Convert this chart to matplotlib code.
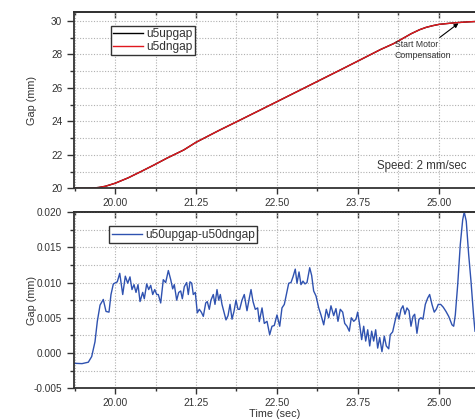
import numpy as np
import matplotlib
matplotlib.use("Agg")
import matplotlib.pyplot as plt
from matplotlib.ticker import MultipleLocator, FormatStrFormatter

plt.rcParams["font.family"] = ["Liberation Sans", "DejaVu Sans"]
plt.rcParams["axes.unicode_minus"] = False

# top panel: gap during the move (mm)
t_gap = [19.367, 19.55, 19.65, 19.75, 19.85, 19.95, 20.0, 20.2, 20.4, 20.6, 20.8,
         21.06, 21.25, 21.6, 21.93, 22.5, 23.0, 23.5, 23.76, 24.1, 24.3, 24.42,
         24.57, 24.7, 24.8, 24.9, 25.0, 25.15, 25.3, 25.45, 25.556]
u5upgap = [20.0, 20.0, 20.01, 20.05, 20.12, 20.24, 20.3, 20.62, 21.0, 21.39, 21.8,
           22.29, 22.75, 23.45, 24.08, 25.18, 26.15, 27.12, 27.63, 28.3, 28.65, 28.91,
           29.24, 29.48, 29.62, 29.72, 29.8, 29.86, 29.91, 29.95, 29.97]
u5dngap = u5upgap  # the two traces overlap at this scale

# bottom panel: up - down gap difference (mm)
t_diff = [19.367, 19.491, 19.537, 19.588, 19.640, 19.691, 19.727, 19.769, 19.819, 19.861,
          19.907, 19.938, 19.974, 20.015, 20.035, 20.073, 20.119, 20.159, 20.196, 20.231,
          20.262, 20.293, 20.324, 20.355, 20.386, 20.427, 20.452, 20.489, 20.520, 20.551,
          20.582, 20.613, 20.644, 20.668, 20.705, 20.745, 20.782, 20.823, 20.860, 20.890,
          20.915, 20.952, 20.983, 21.014, 21.039, 21.069, 21.106, 21.131, 21.157, 21.184,
          21.208, 21.239, 21.270, 21.301, 21.332, 21.363, 21.400, 21.424, 21.455, 21.481,
          21.517, 21.543, 21.574, 21.600, 21.625, 21.651, 21.682, 21.713, 21.744, 21.775,
          21.806, 21.836, 21.867, 21.898, 21.924, 21.960, 21.995, 22.037, 22.073, 22.099,
          22.130, 22.165, 22.202, 22.227, 22.269, 22.304, 22.346, 22.387, 22.423, 22.458,
          22.500, 22.542, 22.577, 22.613, 22.644, 22.681, 22.716, 22.747, 22.782, 22.809,
          22.840, 22.870, 22.901, 22.932, 22.963, 23.005, 23.035, 23.066, 23.102, 23.144,
          23.179, 23.221, 23.261, 23.298, 23.333, 23.375, 23.410, 23.441, 23.477, 23.514,
          23.545, 23.580, 23.616, 23.647, 23.684, 23.719, 23.745, 23.776, 23.807, 23.838,
          23.869, 23.900, 23.931, 23.961, 23.992, 24.023, 24.054, 24.085, 24.120, 24.156,
          24.187, 24.224, 24.248, 24.285, 24.321, 24.352, 24.383, 24.414, 24.444, 24.475,
          24.506, 24.537, 24.568, 24.599, 24.625, 24.660, 24.691, 24.722, 24.753, 24.789,
          24.826, 24.856, 24.892, 24.927, 24.958, 24.989, 25.026, 25.066, 25.108, 25.150,
          25.201, 25.227, 25.252, 25.289, 25.329, 25.366, 25.390, 25.421, 25.458, 25.494,
          25.535, 25.556]
u50_diff = [-0.00145, -0.0015, -0.0014, -0.0013, -0.0005, 0.0016, 0.0045, 0.0068, 0.0076, 0.0059,
            0.0058, 0.0083, 0.0098, 0.0100, 0.0101, 0.0113, 0.0083, 0.0109, 0.0099, 0.0108,
            0.0090, 0.0097, 0.0086, 0.0097, 0.0073, 0.0086, 0.0077, 0.0098, 0.0090, 0.0096,
            0.0083, 0.0090, 0.0083, 0.0083, 0.0071, 0.0104, 0.0100, 0.0117, 0.0104, 0.0091,
            0.0097, 0.0075, 0.0086, 0.0088, 0.0077, 0.0094, 0.0100, 0.0083, 0.0101, 0.0099,
            0.0083, 0.0086, 0.0057, 0.0062, 0.0058, 0.0052, 0.0071, 0.0073, 0.0062, 0.0075,
            0.0083, 0.0069, 0.0090, 0.0075, 0.0083, 0.0069, 0.0058, 0.0047, 0.0053, 0.0069,
            0.0048, 0.0059, 0.0075, 0.0062, 0.0062, 0.0075, 0.0083, 0.0060, 0.0078, 0.0090,
            0.0073, 0.0062, 0.0064, 0.00446, 0.0064, 0.0042, 0.0045, 0.0026, 0.0038, 0.0039,
            0.0054, 0.0038, 0.0064, 0.0069, 0.0083, 0.0099, 0.0100, 0.0108, 0.0119, 0.0099,
            0.0115, 0.0097, 0.0102, 0.0098, 0.0100, 0.0121, 0.0110, 0.0088, 0.0081, 0.0064,
            0.0054, 0.0040, 0.0062, 0.0050, 0.0067, 0.0053, 0.0063, 0.0045, 0.0062, 0.0058,
            0.0042, 0.0038, 0.0031, 0.0050, 0.0045, 0.0048, 0.0058, 0.0040, 0.0019, 0.0038,
            0.0017, 0.0033, 0.0010, 0.0031, 0.0017, 0.0033, 0.0007, 0.0022, 0.0002, 0.0024,
            0.0010, 0.0006, 0.0026, 0.0030, 0.0045, 0.0057, 0.0048, 0.0062, 0.0067, 0.0055,
            0.0064, 0.0060, 0.0038, 0.0052, 0.0055, 0.0028, 0.0048, 0.0050, 0.0048, 0.0069,
            0.0078, 0.0083, 0.0069, 0.0058, 0.0062, 0.0069, 0.0069, 0.0065, 0.0059, 0.0052,
            0.0040, 0.0038, 0.0054, 0.0097, 0.0154, 0.0189, 0.0200, 0.0187, 0.0140, 0.0102,
            0.0052, 0.0031]

TXT = "#333333"
GRID = "#b0b0b0"


def style_axes(ax, y_major, y_minor, y_fmt):
    ax.set_xlim(19.367, 25.556)
    ax.xaxis.set_major_locator(MultipleLocator(1.25))
    ax.xaxis.set_minor_locator(MultipleLocator(0.625))
    ax.xaxis.set_major_formatter(FormatStrFormatter("%.2f"))
    ax.yaxis.set_major_locator(MultipleLocator(y_major))
    ax.yaxis.set_minor_locator(MultipleLocator(y_minor))
    ax.yaxis.set_major_formatter(FormatStrFormatter(y_fmt))
    ax.grid(True, which="both", linestyle=(0, (1, 1.5)), color=GRID, linewidth=0.8)
    ax.spines["right"].set_visible(False)
    for s in ["left", "bottom", "top"]:
        ax.spines[s].set_color(TXT)
        ax.spines[s].set_linewidth(1.3)
    ax.tick_params(axis="y", which="major", direction="out", length=5, width=1, colors=TXT, labelsize=7.2)
    ax.tick_params(axis="y", which="minor", direction="out", length=3, width=1, colors=TXT)
    ax.tick_params(axis="x", which="major", direction="out", length=4, width=1, colors=TXT, labelsize=7.2, pad=3)
    ax.tick_params(axis="x", which="minor", direction="out", length=2, width=1, colors=TXT)
    top = ax.secondary_xaxis("top")
    top.xaxis.set_major_locator(MultipleLocator(1.25))
    top.xaxis.set_minor_locator(MultipleLocator(0.625))
    top.tick_params(which="major", direction="in", length=4, width=1, colors=TXT, labeltop=False)
    top.tick_params(which="minor", direction="in", length=2, width=1, colors=TXT)
    top.spines["top"].set_color(TXT)
    top.spines["top"].set_linewidth(1.3)
    ax.set_ylabel("Gap (mm)", fontsize=7.8, color=TXT, va="center")
    ax.yaxis.set_label_coords(-0.105, 0.5)


def style_legend(leg):
    leg.get_frame().set_edgecolor(TXT)
    leg.get_frame().set_linewidth(1.0)
    for txt in leg.get_texts():
        txt.set_color(TXT)


fig = plt.figure(figsize=(4.75, 4.2), dpi=100)
ax1 = fig.add_axes([74 / 475, 1 - 188.3 / 420, 401 / 475, 176.3 / 420])
ax2 = fig.add_axes([74 / 475, 1 - 388.3 / 420, 401 / 475, 176.3 / 420])

ax1.plot(t_gap, u5upgap, color="black", lw=1.0, label="u5upgap")
ax1.plot(t_gap, u5dngap, color="#e0181e", lw=1.0, label="u5dngap")
ax1.set_ylim(20, 30.54)
style_axes(ax1, 2, 1, "%d")
leg = ax1.legend(loc="upper left", bbox_to_anchor=(0.0915, 0.921), borderaxespad=0,
                 fontsize=8.6, fancybox=False, handlelength=2.5, handletextpad=0.3,
                 borderpad=0.2, labelspacing=0.05, framealpha=1)
style_legend(leg)
ax1.annotate("Start Motor\nCompensation", xy=(25.30, 29.86), xytext=(24.32, 28.85),
             fontsize=6.3, color=TXT, va="top", ha="left", linespacing=1.2,
             arrowprops=dict(arrowstyle="-|>", color="black", lw=0.8,
                             shrinkA=0, shrinkB=0, mutation_scale=6))
ax1.text(24.04, 21.33, "Speed: 2 mm/sec", fontsize=8.3, color=TXT, va="center", ha="left")

ax2.plot(t_diff, u50_diff, color="#2f52b0", lw=1.0, label="u50upgap-u50dngap")
ax2.set_ylim(-0.005, 0.020)
style_axes(ax2, 0.005, 0.0025, "%.3f")
leg2 = ax2.legend(loc="upper left", bbox_to_anchor=(0.088, 0.918), borderaxespad=0,
                  fontsize=8.6, fancybox=False, handlelength=2.5, handletextpad=0.3,
                  borderpad=0.2, framealpha=1)
style_legend(leg2)
fig.text(274.5 / 475, 1 - 414 / 420, "Time (sec)", fontsize=7.8, color=TXT,
         ha="center", va="center")

fig.savefig("out.png", dpi=100)
